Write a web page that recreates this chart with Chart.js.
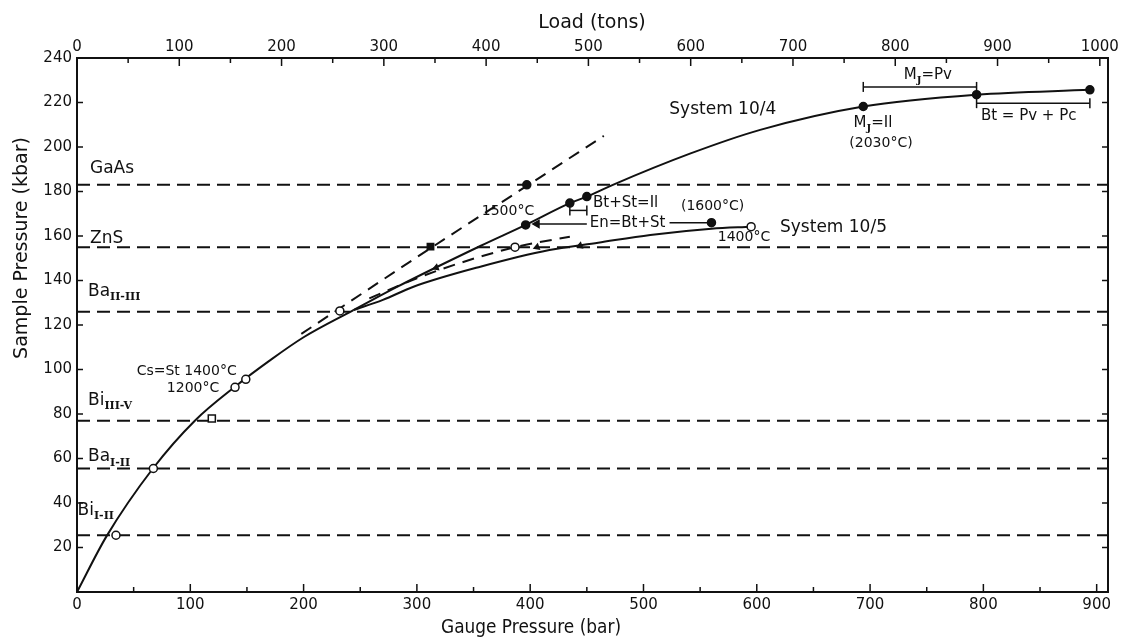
<!DOCTYPE html>
<html>
<head>
<meta charset="utf-8">
<script src="https://cdn.jsdelivr.net/npm/chart.js@4.4.1/dist/chart.umd.min.js"></script>
<style>
  html, body { margin: 0; padding: 0; background: #fff; }
  #wrap { width: 1124px; height: 639px; }
</style>
</head>
<body>
<div id="wrap"><canvas id="chart" width="1124" height="639"></canvas></div>
<script>
'use strict'

// tick values (majors every 100, minors every 50)
const gaugeTicks = [0, 50, 100, 150, 200, 250, 300, 350, 400, 450, 500, 550, 600, 650, 700, 750, 800, 850, 900];
const loadTicks = [0, 50, 100, 150, 200, 250, 300, 350, 400, 450, 500, 550, 600, 650, 700, 750, 800, 850, 900, 950, 1000];
const pressureTicks = [0, 20, 40, 60, 80, 100, 120, 140, 160, 180, 200, 220, 240];

// calibration transitions (kbar)
const transitionKbar = [183, 155, 126, 77, 55.5, 25.5];

// common calibration curve up to the split
const commonGauge = [0, 26, 67, 104, 140, 170, 200, 244];
const commonKbar = [0, 25, 55.5, 77, 92.5, 104, 114.5, 126.7];

// System 10/4
const sys4Gauge = [244, 282, 356, 396, 435, 450, 473, 541, 603, 694, 794, 894];
const sys4Kbar = [126.7, 137, 155.5, 165, 174.8, 177.7, 183, 197, 207.7, 218.2, 223.5, 225.7];

// System 10/5
const sys5Gauge = [244, 270, 297, 356, 417, 460, 506, 560, 595];
const sys5Kbar = [126.7, 131.3, 137.2, 146.2, 153.7, 157, 160.5, 163.3, 164.2];

// dashed curves at 1500 C and the lower dashed branch
const hotGauge = [198, 312, 397, 465];
const hotKbar = [116, 154.5, 182.5, 205];
const branchGauge = [258, 300, 345, 387, 435];
const branchKbar = [132, 141, 149, 155, 159.7];

// measured points
const openGauge = [34.4, 67.4, 139.5, 149, 232, 386.6, 595];
const openKbar = [25.5, 55.5, 92, 95.6, 126.3, 155, 164.2];
const openSqGauge = [119];
const openSqKbar = [78];
const dotGauge = [396, 435, 450, 694, 794, 894, 397, 560];
const dotKbar = [165, 174.8, 177.7, 218.2, 223.5, 225.7, 183, 166];
const sqGauge = [312];
const sqKbar = [155.2];

// small direction arrows on the curves
const arrowGauge = [317, 444, 406];
const arrowKbar = [145.8, 155.6, 155];

// ranges (gauge from, gauge to, kbar)
const mjPv = [694, 794, 227];
const btPvPc = [794, 894, 219.7];
const btStIl = [435, 450, 171.5];
const enArrowLeft = [406, 450, 165.4];
const enArrowRight = [523, 560, 166];

const ink = '#111';
const FONT = '"DejaVu Sans", sans-serif';

const pts = (gx, py) => gx.map((g, i) => ({x: g, y: py[i]}));

const curve = (gx, py, dash) => ({
  data: pts(gx, py),
  borderColor: ink,
  borderWidth: 2,
  borderDash: dash || [],
  pointRadius: 0,
  cubicInterpolationMode: 'monotone',
  order: 2
});

const marks = (gx, py, style, fill, r) => ({
  data: pts(gx, py),
  showLine: false,
  pointStyle: style,
  pointRadius: r,
  pointBackgroundColor: fill,
  pointBorderColor: ink,
  pointBorderWidth: 1.5,
  order: 0
});

const range = (r) => ({
  data: [{x: r[0], y: r[2]}, {x: r[1], y: r[2]}],
  borderColor: ink,
  borderWidth: 1.5,
  pointStyle: 'line',
  pointRotation: 90,
  pointRadius: 5,
  pointBorderColor: ink,
  pointBorderWidth: 1.5,
  order: 1
});

const datasets = [];
transitionKbar.forEach(k => datasets.push({
  data: [{x: 0, y: k}, {x: 910, y: k}],
  borderColor: ink, borderWidth: 2, borderDash: [13, 7], pointRadius: 0, order: 3
}));
datasets.push(curve(commonGauge, commonKbar));
datasets.push(curve(sys4Gauge, sys4Kbar));
datasets.push(curve(sys5Gauge, sys5Kbar));
datasets.push(curve(hotGauge, hotKbar, [12, 8]));
datasets.push(curve(branchGauge, branchKbar, [12, 8]));
datasets.push(range(mjPv));
datasets.push(range(btPvPc));
datasets.push(range(btStIl));
datasets.push({
  data: [{x: enArrowLeft[0], y: enArrowLeft[2]}, {x: enArrowLeft[1], y: enArrowLeft[2]}],
  borderColor: ink, borderWidth: 1.5,
  pointStyle: 'triangle', pointRotation: 270, pointRadius: [4, 0],
  pointBackgroundColor: ink, pointBorderColor: ink, order: 1
});
datasets.push({
  data: [{x: enArrowRight[0], y: enArrowRight[2]}, {x: enArrowRight[1], y: enArrowRight[2]}],
  borderColor: ink, borderWidth: 1.5, pointRadius: 0, order: 1
});
datasets.push(Object.assign(marks(arrowGauge, arrowKbar, 'triangle', ink, 3), {pointRotation: 250}));
datasets.push(marks(openGauge, openKbar, 'circle', '#fff', 4));
datasets.push(marks(openSqGauge, openSqKbar, 'rect', '#fff', 5));
datasets.push(marks(dotGauge, dotKbar, 'circle', ink, 4));
datasets.push(marks(sqGauge, sqKbar, 'rect', ink, 4.5));

// text on the plot: [parts, gauge, kbar, align, size]
const notes = [
  [[['GaAs']], 11.5, 190.5, 'left', 17],
  [[['ZnS']], 11.5, 159, 'left', 17],
  [[['Ba'], ['II-III', 1]], 9.7, 135, 'left', 17],
  [[['Bi'], ['III-V', 1]], 9.7, 86, 'left', 17],
  [[['Ba'], ['I-II', 1]], 9.7, 60.7, 'left', 17],
  [[['Bi'], ['I-II', 1]], 0.5, 36.8, 'left', 17],
  [[['Cs=St 1400°C']], 96.8, 99.3, 'center', 14],
  [[['1200°C']], 102.4, 91.5, 'center', 14],
  [[['1500°C']], 380.4, 171, 'center', 14],
  [[['Bt+St=Il']], 455.4, 174.8, 'left', 15],
  [[['(1600°C)']], 561, 173.2, 'center', 14],
  [[['En=Bt+St']], 486, 166, 'center', 15],
  [[['1400°C']], 588.7, 159.2, 'center', 14],
  [[['System 10/5']], 620.5, 164, 'left', 17],
  [[['System 10/4']], 570, 216.7, 'center', 17],
  [[['M'], ['J', 1], ['=Pv']], 751, 232.5, 'center', 15],
  [[['M'], ['J', 1], ['=Il']], 702.5, 210.7, 'center', 15],
  [[['(2030°C)']], 709.6, 201.7, 'center', 14],
  [[['Bt = Pv + Pc']], 840, 213.7, 'center', 15]
];

const textLayer = {
  id: 'textLayer',
  afterDraw(chart) {
    const {ctx, chartArea: a, scales} = chart;
    ctx.save();
    ctx.strokeStyle = ink;
    ctx.fillStyle = ink;
    ctx.lineWidth = 1.5;

    // inward tick marks
    const tick = (x1, y1, x2, y2) => { ctx.beginPath(); ctx.moveTo(x1, y1); ctx.lineTo(x2, y2); ctx.stroke(); };
    gaugeTicks.forEach(v => {
      const px = scales.x.getPixelForValue(v);
      tick(px, a.bottom, px, a.bottom - (v % 100 ? 5 : 8));
    });
    loadTicks.forEach(v => {
      const px = scales.x2.getPixelForValue(v);
      tick(px, a.top, px, a.top + (v % 100 ? 5 : 8));
    });
    pressureTicks.forEach(v => {
      const py = scales.y.getPixelForValue(v);
      tick(a.left, py, a.left + 6, py);
      tick(a.right, py, a.right - 6, py);
    });

    // axis titles
    ctx.textBaseline = 'middle';
    ctx.textAlign = 'center';
    ctx.font = '19px ' + FONT;
    ctx.fillText('Load (tons)', 592, 23);
    ctx.fillText('Gauge Pressure (bar)', 531, 628, 180);
    ctx.save();
    ctx.translate(22, 248);
    ctx.rotate(-Math.PI / 2);
    ctx.fillText('Sample Pressure (kbar)', 0, 0);
    ctx.restore();

    // annotations
    notes.forEach(([parts, g, k, align, size]) => {
      const fontFor = p => p[1] ? 'bold ' + Math.round(size * 0.65) + 'px "DejaVu Serif", serif' : size + 'px ' + FONT;
      let w = 0;
      parts.forEach(p => { ctx.font = fontFor(p); w += ctx.measureText(p[0]).width; });
      let x = scales.x.getPixelForValue(g);
      const y = scales.y.getPixelForValue(k);
      if (align === 'center') x -= w / 2;
      ctx.textAlign = 'left';
      parts.forEach(p => {
        ctx.font = fontFor(p);
        ctx.fillText(p[0], x, p[1] ? y + size * 0.35 : y);
        x += ctx.measureText(p[0]).width;
      });
    });
    ctx.restore();
  }
};

const tickFont = {family: FONT, size: 15};
const setTicks = list => s => { s.ticks = list.map(v => ({value: v})); };

new Chart(document.getElementById('chart'), {
  type: 'line',
  data: {datasets: datasets},
  options: {
    responsive: false,
    animation: false,
    events: [],
    layout: {padding: 0},
    plugins: {legend: {display: false}, tooltip: {enabled: false}},
    scales: {
      x: {
        type: 'linear', position: 'bottom', min: 0, max: 910,
        afterBuildTicks: setTicks(gaugeTicks),
        afterFit: s => { s.height = 47; s.paddingLeft = 0; s.paddingRight = 0; },
        grid: {display: false, drawTicks: false},
        border: {color: ink, width: 2},
        ticks: {autoSkip: false, maxRotation: 0, padding: 4, color: ink, font: tickFont,
                callback: v => v % 100 ? '' : v}
      },
      x2: {
        type: 'linear', position: 'top', min: 0, max: 1008,
        afterBuildTicks: setTicks(loadTicks),
        afterFit: s => { s.height = 58; s.paddingLeft = 0; s.paddingRight = 0; },
        grid: {display: false, drawTicks: false},
        border: {color: ink, width: 2},
        ticks: {autoSkip: false, maxRotation: 0, padding: 2, color: ink, font: tickFont,
                callback: v => v % 100 ? '' : v}
      },
      y: {
        type: 'linear', position: 'left', min: 0, max: 240,
        afterBuildTicks: setTicks(pressureTicks),
        afterFit: s => { s.width = 77; s.paddingTop = 0; s.paddingBottom = 0; },
        grid: {display: false, drawTicks: false},
        border: {color: ink, width: 2},
        ticks: {padding: 5, color: ink, font: tickFont, callback: v => v === 0 ? '' : v}
      },
      y2: {
        type: 'linear', position: 'right', min: 0, max: 240,
        afterFit: s => { s.width = 16; s.paddingTop = 0; s.paddingBottom = 0; },
        grid: {display: false, drawTicks: false},
        border: {color: ink, width: 2},
        ticks: {display: false}
      }
    }
  },
  plugins: [textLayer]
});
</script>
</body>
</html>
